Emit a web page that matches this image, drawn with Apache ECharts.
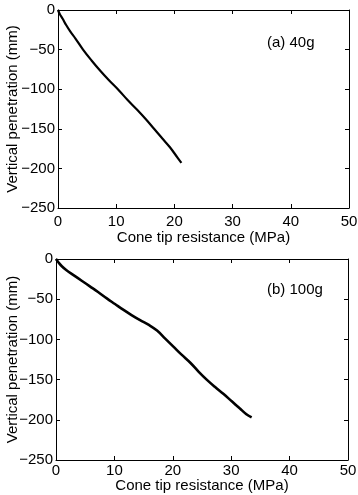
<!DOCTYPE html>
<html>
<head>
<meta charset="utf-8">
<script src="https://cdn.jsdelivr.net/npm/echarts@6/dist/echarts.min.js"></script>
<style>
html,body{margin:0;padding:0;background:#fff;}
#c{width:358px;height:495px;}
</style>
</head>
<body>
<div id="c"></div>
<script>
// Data: [cone tip resistance (MPa), vertical penetration (mm)]
var resistanceA = [0, 0.3, 0.8, 1.4, 2.1, 3.0, 4.3, 5.8, 7.3, 8.8, 10.4, 12.0, 13.6, 15.1, 16.5, 17.9, 19.2, 20.3, 21.2];
var penetrationA = [0, -5, -11, -19, -27, -36, -50, -64, -77, -89, -101, -114, -126, -138, -150, -162, -173, -184, -193];
var resistanceB = [0, 0.4, 1.0, 1.8, 3.0, 4.4, 5.8, 7.2, 8.7, 10.1, 11.5, 13.0, 14.4, 15.9, 17.3, 18.7, 20.1, 21.5, 23.0, 24.4, 25.8, 27.2, 28.7, 30.1, 31.5, 32.6, 33.5];
var penetrationB = [0, -4, -9, -14, -20, -27, -34, -41, -49, -56, -63, -70, -76, -82, -89, -99, -109, -119, -129, -140, -150, -159, -168, -177, -186, -193, -197];
var xTicks = [0, 10, 20, 30, 40, 50];
var yTicks = [-250, -200, -150, -100, -50, 0];
var labelA = '(a) 40g';
var labelB = '(b) 100g';
var xName = 'Cone tip resistance (MPa)';
var yName = 'Vertical penetration (mm)';

function pairs(xs, ys){ return xs.map(function(x,i){ return [x, ys[i]]; }); }

var FONT = '"Liberation Sans", Arial, Helvetica, sans-serif';
var FS = 15;
var fmtY = function(v){ return v < 0 ? '\u2212' + Math.abs(v) : String(v); };

function xAx(grid, pos, showLabel, margin, gap){
  return {
    type:'value', gridIndex:grid, position:pos,
    min:xTicks[0], max:xTicks[xTicks.length-1], interval:10,
    name: showLabel ? xName : '', nameLocation:'middle', nameGap:gap, nameMoveOverlap:false,
    nameTextStyle:{color:'#000', fontSize:FS, fontFamily:FONT},
    axisLine:{show:true, onZero:false, lineStyle:{color:'#000', width:1}},
    axisTick:{show:true, inside:true, length:4, lineStyle:{color:'#000'}},
    axisLabel:{show:showLabel, color:'#000', fontSize:FS, fontFamily:FONT, margin:margin},
    splitLine:{show:false}
  };
}
function yAx(grid, pos, showLabel, gap, margin){
  return {
    type:'value', gridIndex:grid, position:pos,
    min:yTicks[0], max:yTicks[yTicks.length-1], interval:50,
    name: showLabel ? yName : '', nameLocation:'middle', nameGap:gap, nameRotate:90, nameMoveOverlap:false,
    nameTextStyle:{color:'#000', fontSize:FS, fontFamily:FONT},
    axisLine:{show:true, onZero:false, lineStyle:{color:'#000', width:1}},
    axisTick:{show:true, inside:true, length:4, lineStyle:{color:'#000'}},
    axisLabel:{show:showLabel, color:'#000', fontSize:FS, fontFamily:FONT, margin:margin, formatter:fmtY},
    splitLine:{show:false}
  };
}

var chart = echarts.init(document.getElementById('c'), null, {renderer:'canvas'});
chart.setOption({
  backgroundColor:'#fff',
  animation:false,
  grid:[
    {left:58, top:10, width:291, height:198, containLabel:false, outerBoundsMode:'none'},
    {left:56, top:259, width:292, height:201, containLabel:false, outerBoundsMode:'none'}
  ],
  xAxis:[
    xAx(0,'bottom',true,6,22),
    xAx(0,'top',false,0,0),
    xAx(1,'bottom',true,3,18),
    xAx(1,'top',false,0,0)
  ],
  yAxis:[
    yAx(0,'left',true,38,3),
    yAx(0,'right',false,0,0),
    yAx(1,'left',true,36,3),
    yAx(1,'right',false,0,0)
  ],
  series:[
    {type:'line', xAxisIndex:0, yAxisIndex:0, data:pairs(resistanceA, penetrationA),
     showSymbol:false, smooth:0.4, lineStyle:{color:'#000', width:2.2}},
    {type:'line', xAxisIndex:2, yAxisIndex:2, data:pairs(resistanceB, penetrationB),
     showSymbol:false, smooth:0.4, lineStyle:{color:'#000', width:2.6}}
  ],
  graphic:[
    {type:'text', left:267, top:35, style:{text:labelA, fill:'#000', font:FS+'px '+FONT}},
    {type:'text', left:267, top:282, style:{text:labelB, fill:'#000', font:FS+'px '+FONT}}
  ]
});
</script>
</body>
</html>
